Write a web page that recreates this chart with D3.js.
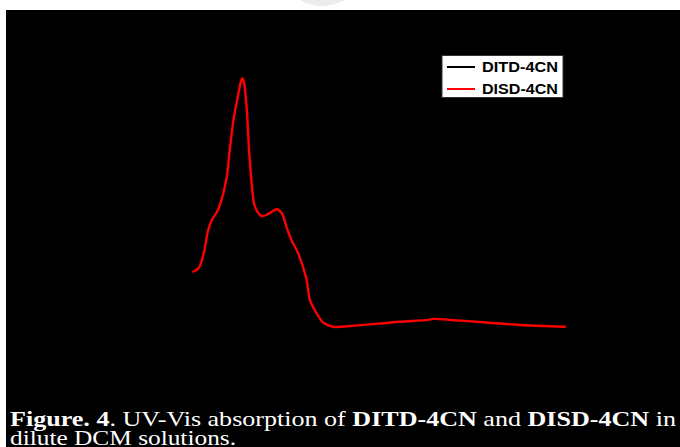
<!DOCTYPE html>
<html><head><meta charset="utf-8">
<script src="https://cdn.jsdelivr.net/npm/d3@7"></script>
<style>html,body{margin:0;padding:0;background:#fff;}svg{display:block;}</style>
</head><body>
<svg id="c" width="680" height="447"></svg>
<script>
// Wavelength (nm) and normalized absorbance
const wavelength = [300,307,314,320,325,332,338,345,349,354,359,364,366,368,372,375,379,383,392,401,412,419,426,432,441,452,457,466,475,488,511,556,578,616,623,645,690,735,800];
const absDITD = [0.232,0.245,0.305,0.397,0.437,0.470,0.517,0.609,0.715,0.834,0.914,0.986,1.000,0.986,0.874,0.715,0.569,0.490,0.453,0.461,0.480,0.464,0.404,0.358,0.305,0.205,0.119,0.066,0.029,0.013,0.016,0.027,0.033,0.040,0.044,0.040,0.031,0.021,0.013];
const absDISD = [0.232,0.245,0.305,0.397,0.437,0.470,0.517,0.609,0.715,0.834,0.914,0.986,1.000,0.986,0.874,0.715,0.569,0.490,0.453,0.461,0.480,0.464,0.404,0.358,0.305,0.205,0.119,0.066,0.029,0.013,0.016,0.027,0.033,0.040,0.044,0.040,0.031,0.021,0.013];
const seriesNames = ["DITD-4CN","DISD-4CN"];
const seriesColors = ["#000000","#ff0000"];

const svg = d3.select("#c");
svg.append("rect").attr("x",0).attr("y",0).attr("width",680).attr("height",447).attr("fill","#fff");
svg.append("path").attr("d","M300,0 Q320,12 345,0 Z").attr("fill","#ececec");
svg.append("rect").attr("x",6).attr("y",10).attr("width",674).attr("height",437).attr("fill","#000");

const x = d3.scaleLinear().domain([300,800]).range([193.3,565]);
const y = d3.scaleLinear().domain([0,1]).range([330,78.3]);

const line = d3.line().x(d=>x(d[0])).y(d=>y(d[1])).curve(d3.curveCatmullRom.alpha(0.5));
[absDITD, absDISD].forEach((vals,i)=>{
  svg.append("path").datum(wavelength.map((w,j)=>[w,vals[j]]))
    .attr("d",line).attr("fill","none").attr("stroke",seriesColors[i])
    .attr("stroke-width",2.4).attr("stroke-linejoin","round").attr("stroke-linecap","round");
});

// legend
const lg = svg.append("g");
lg.append("rect").attr("x",442).attr("y",55.5).attr("width",121).attr("height",42)
  .attr("fill","#fff").attr("stroke","#333").attr("stroke-width",1);
seriesNames.forEach((n,i)=>{
  const yy = 67 + i*22;
  lg.append("line").attr("x1",447).attr("x2",475).attr("y1",yy).attr("y2",yy)
    .attr("stroke",seriesColors[i]).attr("stroke-width",2);
  lg.append("text").attr("x",482).attr("y",yy+5).text(n)
    .attr("font-family","Liberation Sans, Arial, sans-serif").attr("font-weight","bold")
    .attr("font-size",14).attr("fill","#000").attr("textLength",76).attr("lengthAdjust","spacingAndGlyphs");
});

// caption
const cap = svg.append("text").attr("x",10).attr("y",426)
  .attr("font-family","Liberation Serif, Times New Roman, serif").attr("font-size",22).attr("fill","#fff")
  .attr("textLength",666).attr("lengthAdjust","spacingAndGlyphs");
[["Figure. 4",true],[". UV-Vis absorption of ",false],["DITD-4CN",true],[" and ",false],["DISD-4CN",true],[" in",false]]
  .forEach(([t,b])=>cap.append("tspan").text(t).attr("font-weight",b?"bold":"normal"));
svg.append("text").attr("x",10).attr("y",445).text("dilute DCM solutions.")
  .attr("font-family","Liberation Serif, Times New Roman, serif").attr("font-size",22).attr("fill","#fff")
  .attr("textLength",226).attr("lengthAdjust","spacingAndGlyphs");
</script>
</body></html>
